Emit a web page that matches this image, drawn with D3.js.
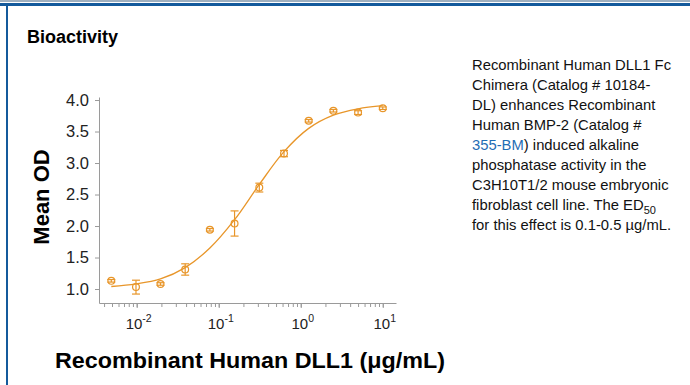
<!DOCTYPE html>
<html>
<head>
<meta charset="utf-8">
<script src="https://cdn.jsdelivr.net/npm/d3@7"></script>
<style>
    body { margin: 0; background: #fff; }
    svg { display: block; }
    text { font-family: "Liberation Sans", Arial, sans-serif; }
</style>
</head>
<body>
<svg id="chart" width="690" height="385"></svg>
<script>
// dose series (ug/mL) and mean OD
const doses = [0.0049, 0.0098, 0.0195, 0.039, 0.078, 0.156, 0.3125, 0.625, 1.25, 2.5, 5, 10];
const meanOD = [1.13, 1.03, 1.08, 1.31, 1.94, 2.04, 2.61, 3.15, 3.67, 3.83, 3.80, 3.87];
const errOD = [0.02, 0.11, 0.02, 0.09, 0.02, 0.20, 0.07, 0.05, 0.02, 0.02, 0.03, 0.02];
// fitted curve, read at the same doses
const fitOD = [1.04, 1.08, 1.16, 1.34, 1.65, 2.10, 2.66, 3.18, 3.55, 3.76, 3.86, 3.91];

const yTicks = [1.0, 1.5, 2.0, 2.5, 3.0, 3.5, 4.0];
const xTickExps = [-2, -1, 0, 1];

const descLines = [
    ["Recombinant Human DLL1 Fc"],
    ["Chimera (Catalog # 10184-"],
    ["DL) enhances Recombinant"],
    ["Human BMP-2 (Catalog #"],
    ["355-BM", ") induced alkaline"],
    ["phosphatase activity in the"],
    ["C3H10T1/2 mouse embryonic"],
    ["fibroblast cell line. The ED", "50"],
    ["for this effect is 0.1-0.5 \u00b5g/mL."]
];

const orange = "#e8962a";
const axisColor = "#9a9a9a";

const svg = d3.select("#chart");

// frame
svg.append("rect").attr("x", 0).attr("y", 0).attr("width", 690).attr("height", 2).attr("fill", "#9fb0c0");
svg.append("rect").attr("x", 0).attr("y", 3).attr("width", 690).attr("height", 3).attr("fill", "#145a9c");
svg.append("rect").attr("x", 6).attr("y", 3).attr("width", 2).attr("height", 382).attr("fill", "#145a9c");

svg.append("text")
    .attr("x", 27).attr("y", 43)
    .attr("font-size", 18).attr("font-weight", "bold")
    .text("Bioactivity");

// scales
const x = d3.scaleLog().domain([0.00347, 14.5]).range([99, 396]);
const y = d3.scaleLinear().domain([0.778, 4.048]).range([303, 97]);

// y axis
const yAxis = svg.append("g")
    .attr("transform", "translate(99,0)")
    .call(d3.axisLeft(y).tickValues(yTicks).tickSize(4).tickSizeOuter(0).tickPadding(6).tickFormat(d3.format(".1f")));
yAxis.select(".domain").attr("stroke", axisColor);
yAxis.selectAll(".tick line").attr("stroke", axisColor);
yAxis.selectAll(".tick text")
    .attr("font-size", 16.5).attr("fill", "#222").attr("font-family", null);

// x axis minor ticks
const xMinor = svg.append("g")
    .attr("transform", "translate(0,303)")
    .call(d3.axisBottom(x).tickValues(x.ticks()).tickSize(4).tickSizeOuter(0).tickFormat(""));
xMinor.select(".domain").attr("stroke", axisColor);
xMinor.selectAll(".tick line").attr("stroke", axisColor);

// x axis major ticks with superscript labels
const xMajor = svg.append("g")
    .attr("transform", "translate(0,303)")
    .call(d3.axisBottom(x).tickValues(xTickExps.map(e => Math.pow(10, e))).tickSize(5).tickFormat(""));
xMajor.select(".domain").remove();
xMajor.selectAll(".tick line").attr("stroke", axisColor);

const xLabels = svg.append("g")
    .selectAll("text")
    .data(xTickExps)
    .enter()
    .append("text")
    .attr("x", d => x(Math.pow(10, d)) + 2)
    .attr("y", 329)
    .attr("text-anchor", "middle")
    .attr("font-size", 15)
    .attr("fill", "#222");
xLabels.append("tspan").text("10");
xLabels.append("tspan").attr("dy", -7).attr("font-size", 10.5).text(d => d < 0 ? "-" + (-d) : d);

// axis titles
svg.append("text")
    .attr("transform", "translate(49,197) rotate(-90)")
    .attr("text-anchor", "middle")
    .attr("font-size", 22).attr("font-weight", "bold")
    .text("Mean OD");

svg.append("text")
    .attr("x", 250).attr("y", 368)
    .attr("text-anchor", "middle")
    .attr("font-size", 22).attr("font-weight", "bold")
    .attr("textLength", 390).attr("lengthAdjust", "spacingAndGlyphs")
    .text("Recombinant Human DLL1 (\u03bcg/mL)");

// fitted curve
const fitLine = d3.line()
    .x(d => x(d[0]))
    .y(d => y(d[1]))
    .curve(d3.curveCatmullRom.alpha(0.5));

svg.append("path")
    .datum(doses.map((d, i) => [d, fitOD[i]]))
    .attr("d", fitLine)
    .attr("fill", "none")
    .attr("stroke", orange)
    .attr("stroke-width", 1.3);

// points with error bars
const pts = svg.append("g")
    .selectAll("g")
    .data(doses.map((d, i) => ({ dose: d, od: meanOD[i], err: errOD[i] })))
    .enter()
    .append("g")
    .attr("stroke", orange)
    .attr("stroke-width", 1.2)
    .attr("fill", "none");

pts.append("line")
    .attr("x1", d => x(d.dose)).attr("x2", d => x(d.dose))
    .attr("y1", d => y(d.od - d.err)).attr("y2", d => y(d.od + d.err));
pts.append("line")
    .attr("x1", d => x(d.dose) - 4).attr("x2", d => x(d.dose) + 4)
    .attr("y1", d => y(d.od + d.err)).attr("y2", d => y(d.od + d.err));
pts.append("line")
    .attr("x1", d => x(d.dose) - 4).attr("x2", d => x(d.dose) + 4)
    .attr("y1", d => y(d.od - d.err)).attr("y2", d => y(d.od - d.err));
pts.append("circle")
    .attr("cx", d => x(d.dose))
    .attr("cy", d => y(d.od))
    .attr("r", 3.4);

// description
const desc = svg.append("g")
    .selectAll("text")
    .data(descLines)
    .enter()
    .append("text")
    .attr("x", 472)
    .attr("y", (d, i) => 70 + i * 20)
    .attr("font-size", 14.8)
    .attr("fill", "#111");

desc.each(function (parts, i) {
    const t = d3.select(this);
    if (i === 4) {
        t.append("tspan").attr("fill", "#1f6db5").text(parts[0]);
        t.append("tspan").text(parts[1]);
    } else if (i === 7) {
        t.append("tspan").text(parts[0]);
        t.append("tspan").attr("dy", 4).attr("font-size", 11).text(parts[1]);
    } else {
        t.text(parts[0]);
    }
});
</script>
</body>
</html>
